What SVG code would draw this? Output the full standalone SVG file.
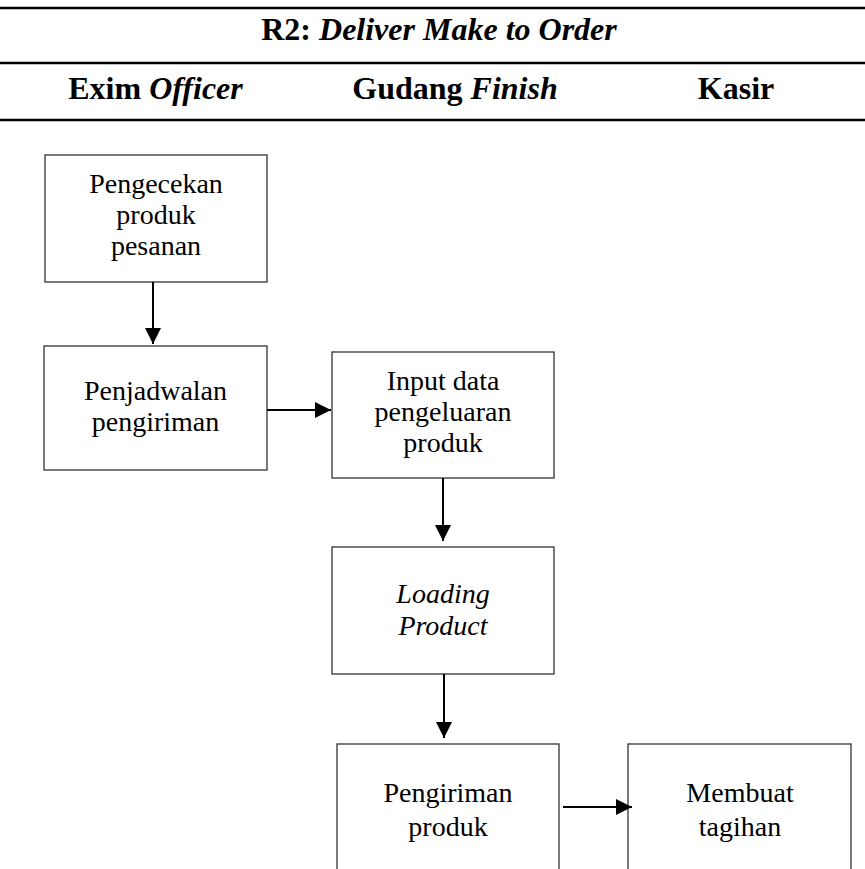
<svg xmlns="http://www.w3.org/2000/svg" width="865" height="869" viewBox="0 0 865 869">
  <defs>
    <marker id="arrow" viewBox="0 0 16 16" refX="16" refY="8" markerWidth="16" markerHeight="16" markerUnits="userSpaceOnUse" orient="auto">
      <path d="M0,0 L16,8 L0,16 Z" fill="#000"/>
    </marker>
    <style>
      .rule { stroke: #000; stroke-width: 2.6; }
      .box { fill: #fff; stroke: #333; stroke-width: 1.3; }
      .head { font-family: "Liberation Serif", "Times New Roman", serif; font-size: 32px; font-weight: bold; fill: #000; text-anchor: middle; }
      .label { font-family: "Liberation Serif", "Times New Roman", serif; font-size: 28px; fill: #000; text-anchor: middle; }
      .it { font-style: italic; }
      .conn { stroke: #000; stroke-width: 2; fill: none; marker-end: url(#arrow); }
    </style>
  </defs>
  <rect width="865" height="869" fill="#fff"/>

  <!-- table header -->
  <g id="header">
    <line class="rule" x1="0" y1="8" x2="865" y2="8"/>
    <line class="rule" x1="0" y1="63" x2="865" y2="63"/>
    <line class="rule" x1="0" y1="120" x2="865" y2="120"/>
    <text class="head" x="439" y="40">R2: <tspan class="it">Deliver Make to Order</tspan></text>
    <text class="head" x="155.5" y="99">Exim <tspan class="it">Officer</tspan></text>
    <text class="head" x="455" y="99">Gudang <tspan class="it">Finish</tspan></text>
    <text class="head" x="736" y="99">Kasir</text>
  </g>

  <!-- process steps -->
  <g id="pengecekan">
    <rect class="box" x="45" y="155" width="222" height="127"/>
    <text class="label" x="156" y="193">Pengecekan<tspan x="156" dy="31">produk</tspan><tspan x="156" dy="31">pesanan</tspan></text>
  </g>
  <g id="penjadwalan">
    <rect class="box" x="44" y="346" width="223" height="124"/>
    <text class="label" x="155.5" y="400">Penjadwalan<tspan x="155.5" dy="31">pengiriman</tspan></text>
  </g>
  <g id="input-data">
    <rect class="box" x="332" y="352" width="222" height="126"/>
    <text class="label" x="443" y="390">Input data<tspan x="443" dy="31">pengeluaran</tspan><tspan x="443" dy="31">produk</tspan></text>
  </g>
  <g id="loading">
    <rect class="box" x="332" y="547" width="222" height="127"/>
    <text class="label it" x="443" y="603">Loading<tspan x="443" dy="32">Product</tspan></text>
  </g>
  <g id="pengiriman">
    <rect class="box" x="337" y="744" width="222" height="140"/>
    <text class="label" x="448" y="802">Pengiriman<tspan x="448" dy="34">produk</tspan></text>
  </g>
  <g id="tagihan">
    <rect class="box" x="628" y="744" width="223" height="140"/>
    <text class="label" x="740" y="802">Membuat<tspan x="740" dy="34">tagihan</tspan></text>
  </g>

  <!-- connectors -->
  <g id="connectors">
    <line class="conn" x1="153" y1="282" x2="153" y2="344"/>
    <line class="conn" x1="267" y1="410" x2="331" y2="410"/>
    <line class="conn" x1="443" y1="478" x2="443" y2="541"/>
    <line class="conn" x1="444" y1="674" x2="444" y2="738"/>
    <line class="conn" x1="563" y1="807" x2="632" y2="807"/>
  </g>
</svg>
